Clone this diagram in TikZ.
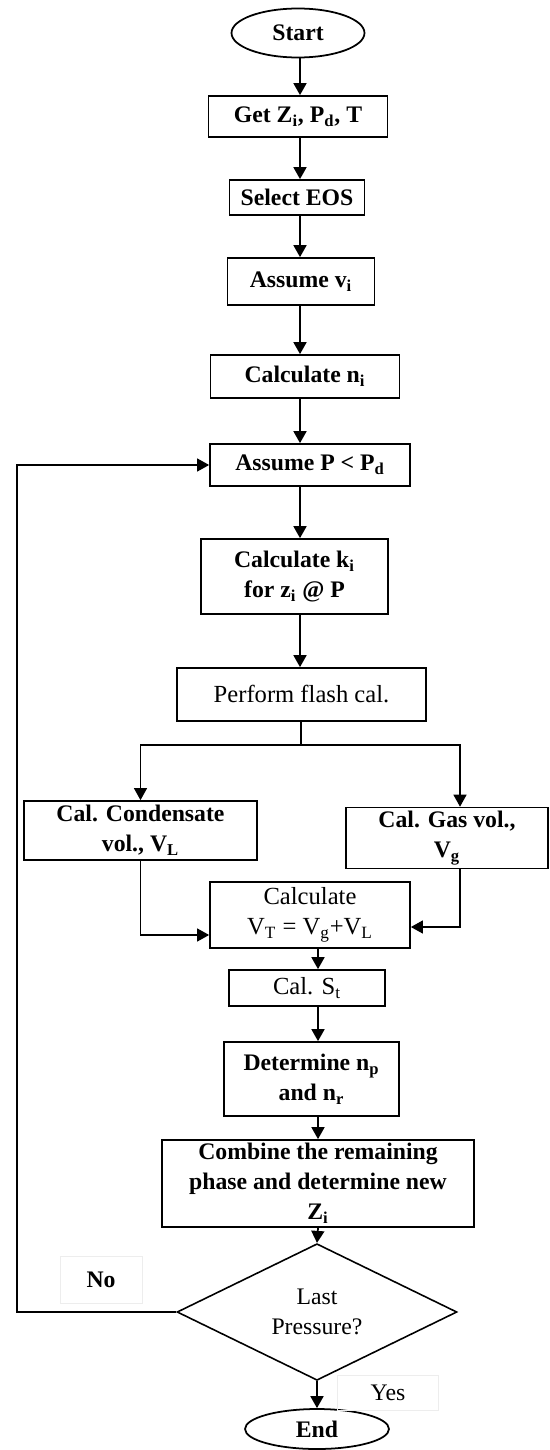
\documentclass[tikz,border=0pt]{standalone}
\usepackage{fontspec}
\setmainfont{Liberation Serif}
\usetikzlibrary{shapes.geometric,arrows.meta}

\tikzset{
    box/.style={draw, line width=1pt, align=center, inner sep=2pt,
        font=\fontsize{13.5}{17}\selectfont\bfseries},
    term/.style={box, ellipse},
    decide/.style={draw, line width=0.9pt, diamond, align=center, inner sep=0pt,
        font=\fontsize{13.5}{17}\selectfont},
    tag/.style={draw=black!7, line width=0.4pt, font=\fontsize{13.5}{17}\selectfont},
    arr/.style={-{Triangle[length=2.4mm,width=2.6mm]}, line width=1pt},
    thinarr/.style={-{Triangle[length=2.4mm,width=2.6mm]}, line width=0.7pt}
}

\begin{document}
\begin{tikzpicture}[x=0.02cm, y=-0.02cm]
    % Frame of the picture
    \useasboundingbox (0, 0) rectangle (549, 1450);

    % Columns of the main flow and of the loop
    \coordinate (colA) at (300, 0);
    \coordinate (colB) at (318, 0);
    \coordinate (loop) at (17, 0);

    % Upper part
    \node[term, minimum width=2.66cm, minimum height=0.98cm] (start) at (298, 33) {Start};
    \node[box, minimum width=3.58cm, minimum height=0.82cm] (get) at (298, 116.5)
        {Get Z\textsubscript{i}, P\textsubscript{d}, T};
    \node[box, minimum width=2.70cm, minimum height=0.70cm] (eos) at (297, 197.5) {Select EOS};
    \node[box, minimum width=2.94cm, minimum height=0.94cm] (assv) at (301, 281.5)
        {Assume v\textsubscript{i}};
    \node[box, minimum width=3.78cm, minimum height=0.86cm] (calcn) at (305, 376.5)
        {Calculate n\textsubscript{i}};
    \node[box, minimum width=4.00cm, minimum height=0.84cm] (assP) at (310, 465)
        {Assume P < P\textsubscript{d}};
    \node[box, minimum width=3.74cm, minimum height=1.50cm] (calck) at (294.5, 576.5)
        {Calculate k\textsubscript{i}\\for z\textsubscript{i} @ P};
    \node[box, font=\fontsize{14}{17}\selectfont, minimum width=4.98cm, minimum height=1.06cm]
        (flash) at (301.5, 694.5) {Perform flash cal.};

    % Two branches
    \node[box, minimum width=4.66cm, minimum height=1.18cm] (cond) at (140.5, 830.5)
        {Cal. Condensate\\vol., V\textsubscript{L}};
    \node[box, minimum width=4.04cm, minimum height=1.20cm] (gas) at (447, 838)
        {Cal. Gas vol.,\\V\textsubscript{g}};

    % Lower part
    \node[box, font=\fontsize{14}{17}\selectfont, minimum width=4.00cm, minimum height=1.32cm]
        (calcVT) at (310, 915) {Calculate\\V\textsubscript{T} = V\textsubscript{g}+V\textsubscript{L}};
    \node[box, font=\fontsize{14}{17}\selectfont, minimum width=3.12cm, minimum height=0.72cm]
        (calcS) at (307, 988) {Cal. S\textsubscript{t}};
    \node[box, minimum width=3.50cm, minimum height=1.48cm] (det) at (311.5, 1079)
        {Determine n\textsubscript{p}\\and n\textsubscript{r}};
    \node[box, minimum width=6.24cm, minimum height=1.74cm] (comb) at (318, 1183.5)
        {Combine the remaining\\phase and determine new\\Z\textsubscript{i}};
    \node[decide, minimum width=5.60cm, minimum height=2.56cm] (dec) at (317, 1312)
        {Last\\Pressure?};
    \node[term, minimum width=2.88cm, minimum height=0.80cm] (end) at (317, 1429) {End};

    % Answers
    \node[tag, font=\fontsize{13.5}{17}\selectfont\bfseries, minimum width=1.64cm, minimum height=0.94cm]
        (no) at (101, 1280) {No};
    \node[tag, minimum width=2.02cm, minimum height=0.70cm] (yes) at (388, 1393) {Yes};

    % Main flow
    \draw[arr] (start.south -| colA) -- (get.north -| colA);
    \draw[arr] (get.south -| colA) -- (eos.north -| colA);
    \draw[arr] (eos.south -| colA) -- (assv.north -| colA);
    \draw[arr] (assv.south -| colA) -- (calcn.north -| colA);
    \draw[arr] (calcn.south -| colA) -- (assP.north -| colA);
    \draw[arr] (assP.south -| colA) -- (calck.north -| colA);
    \draw[arr] (calck.south -| colA) -- (flash.north -| colA);

    % Split after the flash
    \coordinate (split) at (301, 745);
    \draw[line width=0.7pt] (flash.south -| split) -- (split);
    \draw[thinarr] (split) -| (cond.north);
    \draw[thinarr] (split) -| ([xshift=0.26cm]gas.north);

    % Join into the total volume
    \draw[thinarr] (cond.south) |- ([yshift=-0.40cm]calcVT.west);
    \draw[thinarr] ([xshift=0.26cm]gas.south) |- ([yshift=-0.24cm]calcVT.east);

    \draw[arr] (calcVT.south -| colB) -- (calcS.north -| colB);
    \draw[arr] (calcS.south -| colB) -- (det.north -| colB);
    \draw[arr] (det.south -| colB) -- (comb.north -| colB);
    \draw[arr] (comb.south -| colB) -- (dec.north);
    \draw[arr] (dec.south) -- (end.north);

    % Back to the pressure step
    \draw[thinarr] (dec.west) -- (dec.west -| loop) |- (assP.west);
\end{tikzpicture}
\end{document}
